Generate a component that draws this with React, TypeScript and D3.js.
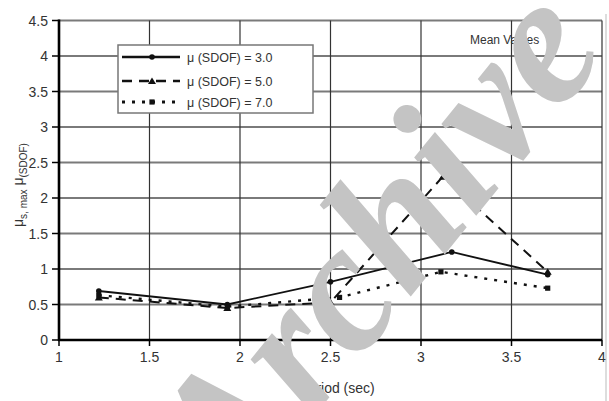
import React from 'react';
import * as d3 from 'd3';

// Mean ductility ratios against period, one series per SDOF ductility level
const periodsMu3 = [1.22, 1.93, 2.5, 3.17, 3.7];
const valuesMu3 = [0.69, 0.5, 0.82, 1.24, 0.92];
const periodsMu5 = [1.22, 1.93, 2.5, 3.12, 3.7];
const valuesMu5 = [0.6, 0.45, 0.53, 2.3, 0.96];
const periodsMu7 = [1.22, 1.93, 2.55, 3.11, 3.7];
const valuesMu7 = [0.63, 0.47, 0.6, 0.96, 0.73];
const seriesLabels = ['μ (SDOF) = 3.0', 'μ (SDOF) = 5.0', 'μ (SDOF) = 7.0'];
const xTicks = [1, 1.5, 2, 2.5, 3, 3.5, 4];
const yTicks = [0, 0.5, 1, 1.5, 2, 2.5, 3, 3.5, 4, 4.5];

const W = 609;
const H = 401;
const FONT = '"Liberation Sans", Arial, sans-serif';

// Watermark word, laid out letter by letter along a slanted baseline
const stampLetters = ['A', 'r', 'c', 'h', 'i', 'v', 'e'];
const stampAdvances = [0.667, 0.389, 0.444, 0.556, 0.278, 0.444, 0.444];

type Series = { xs: number[]; ys: number[]; label: string; dash: string; width: number; marker: 'circle' | 'triangle' | 'square' };

const series: Series[] = [
  { xs: periodsMu3, ys: valuesMu3, label: seriesLabels[0], dash: '', width: 1.8, marker: 'circle' },
  { xs: periodsMu5, ys: valuesMu5, label: seriesLabels[1], dash: '10,7', width: 2, marker: 'triangle' },
  { xs: periodsMu7, ys: valuesMu7, label: seriesLabels[2], dash: '3,7', width: 2.4, marker: 'square' },
];

function Marker({ kind, x, y }: { kind: Series['marker']; x: number; y: number }) {
  if (kind === 'circle') return <circle cx={x} cy={y} r={2.8} fill="#111" />;
  if (kind === 'triangle')
    return <path d={`M${x - 4},${y + 3} L${x},${y - 3.5} L${x + 4},${y + 3} Z`} fill="#111" />;
  return <rect x={x - 2.6} y={y - 2.6} width={5.2} height={5.2} fill="#111" />;
}

function Stamp() {
  const size = 185;
  const angle = 51;
  const ux = Math.cos((angle * Math.PI) / 180);
  const uy = -Math.sin((angle * Math.PI) / 180);
  const x0 = 234;
  const y0 = 515;
  let acc = 0;
  return (
    <g fill="#c4c4c4" fontFamily='"Liberation Serif", "Times New Roman", serif' fontStyle="italic" fontWeight="bold" fontSize={size}>
      {stampLetters.map((ch, i) => {
        const s = (acc + stampAdvances[i] / 2) * size;
        acc += stampAdvances[i];
        const px = x0 + ux * s;
        const py = y0 + uy * s;
        return (
          <text key={i} x={px} y={py} textAnchor="middle" transform={`rotate(${-angle}, ${px}, ${py})`}>
            {ch}
          </text>
        );
      })}
    </g>
  );
}

export default function App() {
  const x = d3.scaleLinear().domain([1, 4]).range([59, 602]);
  const y = d3.scaleLinear().domain([0, 4.5]).range([340, 20.5]);
  const line = d3
    .line<[number, number]>()
    .x((d) => x(d[0]))
    .y((d) => y(d[1]));

  const legendX = 118;
  const legendY = 45;
  const legendRows = [57, 81, 102];

  return (
    <svg width={W} height={H} style={{ position: 'absolute', left: 0, top: 0, background: '#fff' }}>
      <rect x={0} y={0} width={W} height={H} fill="#fff" />

      {/* horizontal gridlines */}
      {yTicks.slice(1).map((t) => (
        <line key={'h' + t} x1={x(1)} x2={x(4)} y1={y(t)} y2={y(t)} stroke="#7a7a7a" strokeWidth={2} />
      ))}
      {/* vertical gridlines */}
      {xTicks.slice(1).map((t) => (
        <line key={'v' + t} x1={x(t)} x2={x(t)} y1={y(4.5)} y2={y(0)} stroke="#333" strokeWidth={1.2} />
      ))}
      {/* outer chart edge */}
      <line x1={606} x2={606} y1={14} y2={H} stroke="#bbb" strokeWidth={1} />

      {/* axes */}
      <line x1={x(1)} x2={x(1)} y1={y(4.5) - 1} y2={y(0) + 1} stroke="#000" strokeWidth={2.6} />
      <line x1={x(1) - 1} x2={x(4)} y1={y(0)} y2={y(0)} stroke="#000" strokeWidth={2.6} />
      {yTicks.map((t) => (
        <g key={'yt' + t}>
          <line x1={x(1) - 7} x2={x(1)} y1={y(t)} y2={y(t)} stroke="#000" strokeWidth={1.5} />
          <text x={48} y={y(t) + 5} textAnchor="end" fontFamily={FONT} fontSize={14} fill="#333">
            {t}
          </text>
        </g>
      ))}
      {xTicks.map((t) => (
        <g key={'xt' + t}>
          <line x1={x(t)} x2={x(t)} y1={y(0)} y2={y(0) + 6} stroke="#000" strokeWidth={1.5} />
          <text x={x(t)} y={362} textAnchor="middle" fontFamily={FONT} fontSize={14} fill="#333">
            {t}
          </text>
        </g>
      ))}

      {/* series */}
      {series.map((s, i) => {
        const pts = s.xs.map((v, k) => [v, s.ys[k]] as [number, number]);
        return (
          <g key={'s' + i}>
            <path d={line(pts) || ''} fill="none" stroke="#111" strokeWidth={s.width} strokeDasharray={s.dash} />
            {pts.map((p, k) => (
              <Marker key={k} kind={s.marker} x={x(p[0])} y={y(p[1])} />
            ))}
          </g>
        );
      })}

      {/* legend */}
      <rect x={legendX} y={legendY} width={195} height={68} fill="#fff" stroke="#777" strokeWidth={1.5} />
      {series.map((s, i) => (
        <g key={'lg' + i}>
          <line x1={122} x2={180} y1={legendRows[i]} y2={legendRows[i]} stroke="#111" strokeWidth={s.width + 0.6} strokeDasharray={s.dash} />
          <Marker kind={s.marker} x={152} y={legendRows[i]} />
          <text x={187} y={legendRows[i] + 4.5} fontFamily={FONT} fontSize={12.5} fill="#333">
            {s.label}
          </text>
        </g>
      ))}

      <text x={470} y={44} fontFamily={FONT} fontSize={12} fill="#333">
        Mean Values
      </text>

      {/* axis titles */}
      <text x={337} y={393} textAnchor="middle" fontFamily={FONT} fontSize={14} fill="#333">
        Period (sec)
      </text>
      <text transform="translate(23,185) rotate(-90)" textAnchor="middle" fontFamily={FONT} fontSize={14} fill="#333">
        μ
        <tspan fontSize={10} dy={4}>s, max</tspan>
        <tspan dy={-4}> μ</tspan>
        <tspan fontSize={10} dy={4}>(SDOF)</tspan>
      </text>

      <Stamp />
    </svg>
  );
}
